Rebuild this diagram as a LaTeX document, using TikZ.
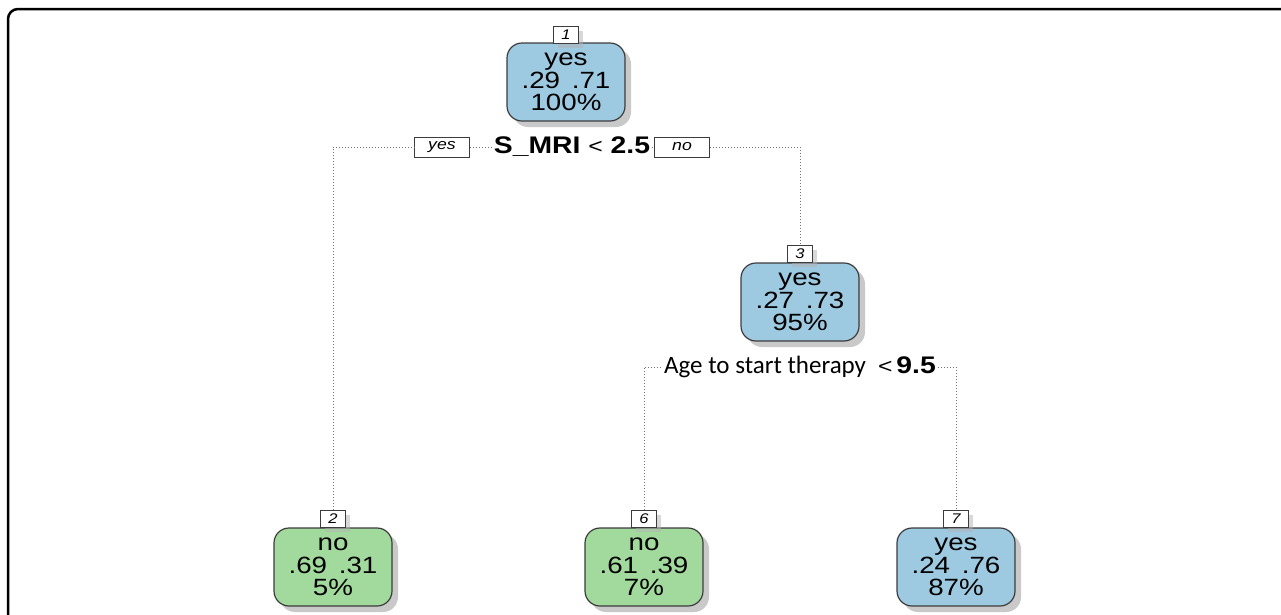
\documentclass[tikz,border=0pt]{standalone}
\usepackage{fontspec}
\setmainfont{Liberation Sans}[FakeStretch=1.18]
\newfontfamily\calfont{Carlito}
\usetikzlibrary{shadows}
\definecolor{leafblue}{RGB}{158,202,225}
\definecolor{leafgreen}{RGB}{162,217,156}
\definecolor{boxline}{RGB}{60,60,60}
\tikzset{
  treenode/.style={draw=boxline, line width=1.2pt, rounded corners=15pt, minimum width=118pt, minimum height=78pt,
    align=center, font=\fontsize{23.5}{22.5}\selectfont, inner sep=0pt,
    drop shadow={shadow xshift=6pt, shadow yshift=-6pt, fill=black!35, opacity=0.6}},
  bluenode/.style={treenode, fill=leafblue},
  greennode/.style={treenode, fill=leafgreen},
  numlabel/.style={draw=boxline, fill=white, line width=0.9pt, minimum width=25pt, minimum height=17pt, inner sep=0pt,
    font=\fontsize{14}{14}\selectfont\itshape,
    drop shadow={shadow xshift=4pt, shadow yshift=-4pt, fill=black!30, opacity=0.5}},
  branchlabel/.style={draw=boxline, fill=white, line width=0.9pt, minimum width=55pt, minimum height=20pt, inner sep=0pt,
    font=\fontsize{15}{15}\selectfont\itshape},
  splitlabel/.style={fill=white, inner sep=2pt, font=\fontsize{24}{24}\selectfont\bfseries},
  edge/.style={draw=black!55, line width=1pt, dotted},
}
\begin{document}
\begin{tikzpicture}[x=1pt,y=-1pt]
\useasboundingbox (0,0) rectangle (1281,614);
\fill[white] (0,0) rectangle (1281,614);
\draw[line width=2.5pt, rounded corners=10pt] (8,616) -- (8,9) -- (1283,9);

% nodes
\node[bluenode] (n1) at (566,82) {yes\\.29\enspace.71\\100\%};
\node[numlabel] (l1) at (566,35) {1};
\node[bluenode] (n3) at (800,302) {yes\\.27\enspace.73\\95\%};
\node[numlabel] (l3) at (800,254) {3};
\node[greennode] (n2) at (333,567) {no\\.69\enspace.31\\5\%};
\node[numlabel] (l2) at (333,519) {2};
\node[greennode] (n6) at (644,567) {no\\.61\enspace.39\\7\%};
\node[numlabel] (l6) at (644,519) {6};
\node[bluenode] (n7) at (956,567) {yes\\.24\enspace.76\\87\%};
\node[numlabel] (l7) at (956,519) {7};

% split 1
\node[splitlabel] (s1) at (572,147) {S\_MRI {\mdseries\fontsize{21}{21}\selectfont<} 2.5};
\node[branchlabel] (yes) at (442,147) {yes};
\node[branchlabel] (no) at (682,147) {no};
\draw[edge] (l2.north) |- (yes.west);
\draw[edge] (yes.east) -- (s1.west);
\draw[edge] (s1.east) -- (no.west);
\draw[edge] (no.east) -| (l3.north);

% split 2
\node[splitlabel, inner sep=2pt] (s2) at (800,367) {{\calfont\mdseries\fontsize{25}{25}\selectfont Age to start therapy}\enspace{\mdseries\fontsize{21}{21}\selectfont<}\,9.5};
\draw[edge] (l6.north) |- (s2.west);
\draw[edge] (s2.east) -| (l7.north);
\end{tikzpicture}
\end{document}
